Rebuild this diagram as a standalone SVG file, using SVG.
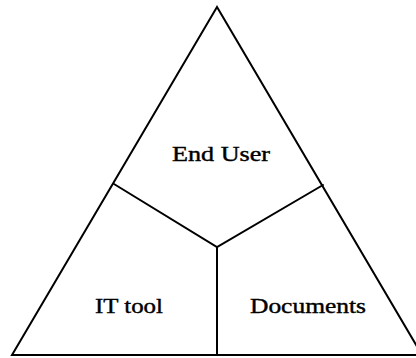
<svg xmlns="http://www.w3.org/2000/svg" width="416" height="358" viewBox="0 0 416 358">
  <style>
    .edge { stroke: #000; stroke-width: 2; fill: none; stroke-linecap: round; stroke-linejoin: miter; }
    .label { font-family: "Liberation Serif", "Times New Roman", serif; font-size: 21px; fill: #000; stroke: #000; stroke-width: 0.4; }
  </style>
  <rect width="416" height="358" fill="#fff"/>
  <!-- outer triangle -->
  <g id="frame">
    <polygon class="edge" points="217,7 12,355 422,355"/>
  </g>
  <!-- dividers meeting at the centre point -->
  <g id="connectors">
    <polyline class="edge" points="114,184 217,247 323,185"/>
    <line class="edge" x1="217" y1="247" x2="217" y2="355"/>
  </g>
  <g id="end-user">
    <text class="label" x="172" y="161" textLength="98" lengthAdjust="spacingAndGlyphs">End User</text>
  </g>
  <g id="it-tool">
    <text class="label" x="95" y="313" textLength="68" lengthAdjust="spacingAndGlyphs">IT tool</text>
  </g>
  <g id="documents">
    <text class="label" x="250" y="313" textLength="116" lengthAdjust="spacingAndGlyphs">Documents</text>
  </g>
</svg>
